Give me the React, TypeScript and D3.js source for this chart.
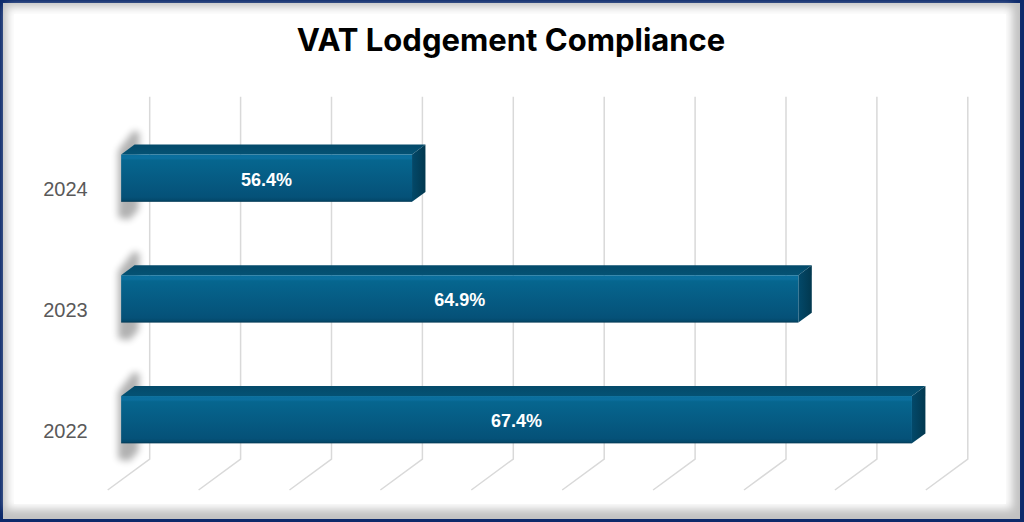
import React from "react";
import * as d3 from "d3";

const title = "VAT Lodgement Compliance";
const categories = ["2024", "2023", "2022"];
const values = [56.4, 64.9, 67.4];
const gridTicks = [50, 52, 54, 56, 58, 60, 62, 64, 66, 68];

const W = 1024;
const H = 522;

export default function App() {
  const x = d3.scaleLinear().domain([50, 68]).range([149.7, 967.8]);
  const y = d3
    .scaleBand<string>()
    .domain(categories)
    .range([96.7, 459])
    .paddingInner(0.608)
    .paddingOuter(0.304);
  const DX = -42;
  const DY = 31;
  const d0 = 0.36;
  const d1 = 0.68;
  const P = (v: number, yb: number, d: number): [number, number] => [x(v) + DX * d, yb + DY * d];
  const pts = (arr: [number, number][]) => arr.map((p) => p.join(",")).join(" ");
  const floorY = 459;
  const wallTop = 96.7;

  return (
    <svg
      width={W}
      height={H}
      style={{ position: "absolute", left: 0, top: 0, display: "block" }}
      xmlns="http://www.w3.org/2000/svg"
    >
      <defs>
        <filter id="frameBlur" x="-5%" y="-5%" width="110%" height="110%">
          <feGaussianBlur stdDeviation="4" />
        </filter>
        <filter id="barShadow" x="-100%" y="-50%" width="300%" height="200%">
          <feGaussianBlur stdDeviation="3.5" />
        </filter>
        <linearGradient id="frontGrad" x1="0" y1="0" x2="0" y2="1">
          <stop offset="0" stopColor="#0a6e9c" />
          <stop offset="0.08" stopColor="#0b6f9e" />
          <stop offset="0.12" stopColor="#06668f" />
          <stop offset="0.9" stopColor="#055178" />
          <stop offset="0.96" stopColor="#044a6d" />
          <stop offset="1" stopColor="#033954" />
        </linearGradient>
        <linearGradient id="sideGrad" x1="0" y1="0" x2="1" y2="0">
          <stop offset="0" stopColor="#03496a" />
          <stop offset="1" stopColor="#02384f" />
        </linearGradient>
        <linearGradient id="topGrad" x1="0" y1="0" x2="0" y2="1">
          <stop offset="0" stopColor="#044a6a" />
          <stop offset="1" stopColor="#045274" />
        </linearGradient>
      </defs>

      {/* frame */}
      <rect x={0} y={0} width={W} height={H} fill="#0d2a6b" />
      <rect x={3} y={3} width={W - 7} height={H - 6} fill="#c2c2c2" />
      <rect x={7} y={7} width={W - 19} height={H - 20} fill="#ffffff" filter="url(#frameBlur)" />
      <rect x={14} y={14} width={W - 32} height={H - 32} fill="#ffffff" />

      {/* title */}
      <text
        x={511}
        y={51}
        textAnchor="middle"
        fontFamily="Inter, 'Open Sans', sans-serif"
        fontWeight={700}
        fontSize={31}
        fill="#000000"
      >
        {title}
      </text>

      {/* gridlines: back wall + floor */}
      <g stroke="#d9d9d9" strokeWidth={1.5} fill="none">
        {gridTicks.map((t) => (
          <polyline
            key={t}
            points={pts([
              [x(t), wallTop],
              [x(t), floorY],
              P(t, floorY, 1),
            ])}
          />
        ))}
      </g>

      {/* bars */}
      {categories.map((c, i) => {
        const v = values[i];
        const yt = y(c)!;
        const yb = yt + y.bandwidth();
        const fTL = P(50, yt, d1);
        const fTR = P(v, yt, d1);
        const fBR = P(v, yb, d1);
        const fBL = P(50, yb, d1);
        const bTL = P(50, yt, d0);
        const bTR = P(v, yt, d0);
        const bBR = P(v, yb, d0);
        const cx = (fTL[0] + fTR[0]) / 2;
        const cy = (fTL[1] + fBL[1]) / 2;
        return (
          <g key={c}>
            <polygon
              points={pts([
                [bTL[0] - 1, bTL[1] - 14],
                [bTL[0] + 5, bTL[1] - 12],
                [bTL[0] + 4, fBL[1] + 8],
                [fTL[0] + 8, fBL[1] + 18],
                [fTL[0] - 3, fBL[1] + 16],
                [fTL[0] - 3, fTL[1] - 4],
              ])}
              fill="#000000"
              opacity={0.3}
              filter="url(#barShadow)"
            />
            <polygon points={pts([bTL, bTR, fTR, fTL])} fill="url(#topGrad)" />
            <polygon points={pts([fTR, bTR, bBR, fBR])} fill="url(#sideGrad)" />
            <rect
              x={fTL[0]}
              y={fTL[1]}
              width={fTR[0] - fTL[0]}
              height={fBL[1] - fTL[1]}
              fill="url(#frontGrad)"
            />
            <text
              x={cx}
              y={cy + 1.5}
              textAnchor="middle"
              dominantBaseline="central"
              fontFamily="'Liberation Sans', Arial, sans-serif"
              fontWeight={700}
              fontSize={18}
              fill="#ffffff"
            >
              {v.toFixed(1) + "%"}
            </text>
            <text
              x={x(50) + DX - 20}
              y={(yt + yb) / 2 + DY + 1}
              textAnchor="end"
              dominantBaseline="central"
              fontFamily="'Liberation Sans', Arial, sans-serif"
              fontSize={20}
              fill="#595959"
            >
              {c}
            </text>
          </g>
        );
      })}
    </svg>
  );
}
